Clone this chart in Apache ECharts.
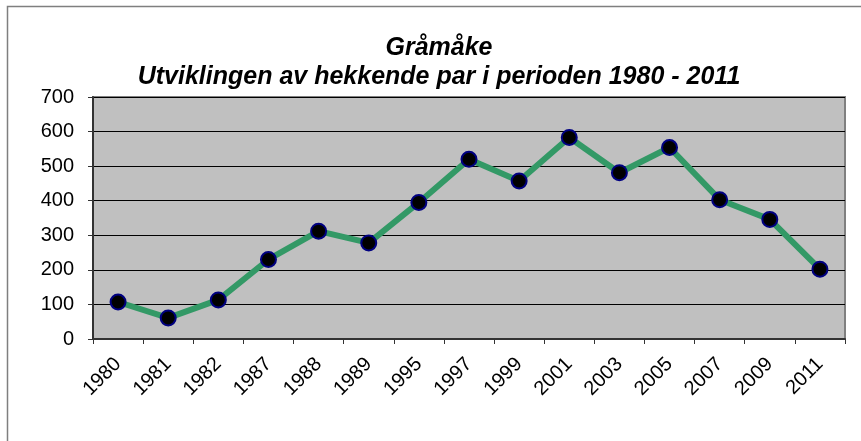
<!DOCTYPE html>
<html>
<head>
<meta charset="utf-8">
<script src="https://cdn.jsdelivr.net/npm/echarts@6/dist/echarts.min.js"></script>
<style>
  html, body { margin: 0; padding: 0; background: #fff; }
  #chart { width: 861px; height: 441px; }
</style>
</head>
<body>
<div id="chart"></div>
<script>
// år (x-akse)
var years = ['1980', '1981', '1982', '1987', '1988', '1989', '1995', '1997', '1999', '2001', '2003', '2005', '2007', '2009', '2011'];
// hekkende par
var pairs = [107, 61, 113, 230, 312, 278, 395, 520, 457, 583, 481, 554, 403, 346, 202];
// y-akse tick labels
var yTicks = [0, 100, 200, 300, 400, 500, 600, 700];

var chart = echarts.init(document.getElementById('chart'));

var option = {
  animation: false,
  backgroundColor: '#ffffff',
  title: {
    text: 'Gråmåke\nUtviklingen av hekkende par i perioden 1980 - 2011',
    left: 434,
    top: 29,
    textAlign: 'center',
    textStyle: {
      fontFamily: 'Liberation Sans, Arial, sans-serif',
      fontSize: 25,
      fontWeight: 'bold',
      fontStyle: 'italic',
      color: '#000',
      lineHeight: 29
    }
  },
  graphic: [
    {
      type: 'rect',
      shape: { x: 7.5, y: 6.5, width: 900, height: 500 },
      style: { fill: 'none', stroke: '#7f7f7f', lineWidth: 1.5 },
      z: 100
    }
  ],
  grid: {
    left: 93,
    right: 16,
    top: 97,
    bottom: 102,
    show: true,
    backgroundColor: '#c0c0c0',
    borderColor: '#808080',
    borderWidth: 2
  },
  xAxis: {
    type: 'category',
    data: years,
    boundaryGap: true,
    axisLine: { show: true, lineStyle: { color: '#333', width: 2 } },
    axisTick: { show: true, inside: false, length: 5, alignWithLabel: false, lineStyle: { color: '#333', width: 1 } },
    axisLabel: {
      interval: 0,
      rotate: 45,
      margin: 22,
      fontFamily: 'Liberation Sans, Arial, sans-serif',
      fontSize: 20,
      color: '#000'
    },
    splitLine: { show: false }
  },
  yAxis: {
    type: 'value',
    min: yTicks[0],
    max: yTicks[yTicks.length - 1],
    interval: 100,
    axisLine: { show: true, lineStyle: { color: '#333', width: 2 } },
    axisTick: { show: true, length: 5, lineStyle: { color: '#333', width: 1 } },
    axisLabel: {
      margin: 19,
      fontFamily: 'Liberation Sans, Arial, sans-serif',
      fontSize: 20,
      color: '#000'
    },
    splitLine: { show: true, lineStyle: { color: '#000', width: 1 } }
  },
  series: [
    {
      name: 'Gråmåke',
      type: 'line',
      data: pairs,
      lineStyle: { color: '#339966', width: 6 },
      symbol: 'circle',
      symbolSize: 15,
      itemStyle: { color: '#000', borderColor: '#000080', borderWidth: 2 },
      z: 3
    }
  ]
};

chart.setOption(option);
</script>
</body>
</html>
